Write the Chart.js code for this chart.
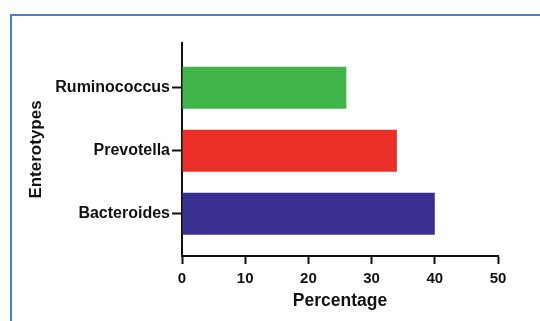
<!DOCTYPE html>
<html>
<head>
<meta charset="utf-8">
<script src="https://cdn.jsdelivr.net/npm/chart.js@4.4.1/dist/chart.umd.min.js"></script>
<style>
  html, body { margin: 0; padding: 0; background: #fff; }
  #wrap { position: relative; width: 540px; height: 321px; overflow: hidden; }
  /* light-blue panel frame; only its top and left edges are inside the crop */
  #frame {
    position: absolute; left: 10px; top: 14px; width: 600px; height: 400px;
    border-top: 2px solid #4f7cc8; border-left: 2px solid #4f7cc8;
  }
  canvas { position: absolute; left: 0; top: 0; }
</style>
</head>
<body>
<div id="wrap">
  <div id="frame"></div>
  <canvas id="chart" width="540" height="321"></canvas>
</div>
<script>
// Enterotype share, bottom to top as drawn on the y axis.
const categories = ['Bacteroides', 'Prevotella', 'Ruminococcus'];
const percentages = [40, 34, 26];
const barColors = ['#3a3092', '#ea2f28', '#3fb54a'];
const xTickValues = [0, 10, 20, 30, 40, 50];

const INK = '#111';
const FONT = '"Liberation Sans", Arial, Helvetica, sans-serif';

const points = categories.map((_, i) => ({ x: percentages[i], y: i }));

new Chart(document.getElementById('chart').getContext('2d'), {
  type: 'bar',
  data: {
    datasets: [{
      data: points,
      backgroundColor: barColors,
      borderWidth: 0,
      categoryPercentage: 1,
      barPercentage: 0.667,
    }],
  },
  options: {
    indexAxis: 'y',
    responsive: false,
    animation: false,
    devicePixelRatio: 1,
    layout: { padding: { top: 43, right: 42, left: 0, bottom: 0 } },
    scales: {
      x: {
        type: 'linear',
        min: 0,
        max: 50,
        afterBuildTicks: (scale) => { scale.ticks = xTickValues.map((v) => ({ value: v })); },
        afterFit: (scale) => { scale.height = 65; },
        ticks: { color: INK, padding: 6, font: { family: FONT, size: 15, weight: 'bold' } },
        grid: { drawOnChartArea: false, drawTicks: true, tickLength: 8, tickWidth: 2, tickColor: INK },
        border: { display: true, color: INK, width: 2 },
        title: {
          display: true,
          text: 'Percentage',
          color: INK,
          padding: { top: 0, bottom: 9 },
          font: { family: FONT, size: 17.5, weight: 'bold' },
        },
      },
      y: {
        type: 'linear',
        offset: false,
        min: -0.67,
        max: 2.71,
        afterBuildTicks: (scale) => { scale.ticks = categories.map((_, i) => ({ value: i })); },
        afterFit: (scale) => { scale.width = 182; },
        ticks: {
          color: INK,
          padding: 2,
          font: { family: FONT, size: 16, weight: 'bold' },
          callback: (v) => categories[v],
        },
        grid: {
          offset: false,
          drawOnChartArea: false,
          drawTicks: true,
          tickLength: 10,
          tickWidth: 2,
          tickColor: INK,
        },
        border: { display: true, color: INK, width: 2 },
        title: {
          display: true,
          text: 'Enterotypes',
          color: INK,
          padding: { top: 26, bottom: 0 },
          font: { family: FONT, size: 17, weight: 'bold' },
        },
      },
    },
    plugins: {
      legend: { display: false },
      tooltip: { enabled: false },
    },
  },
});
</script>
</body>
</html>
